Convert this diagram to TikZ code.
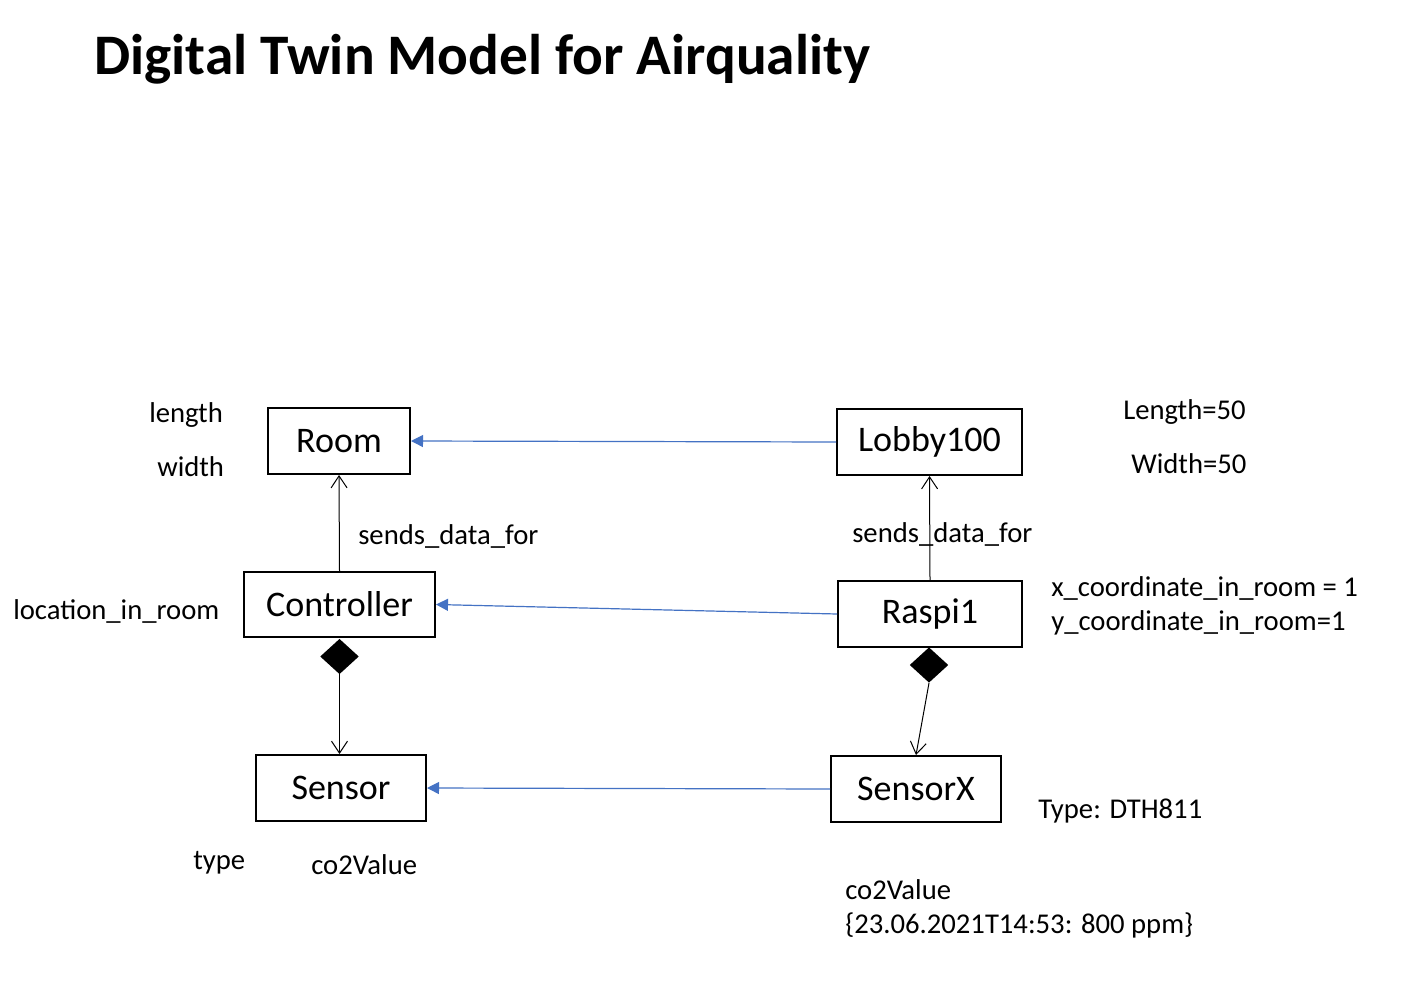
\documentclass[tikz,border=0pt]{standalone}
\usepackage{fontspec}
\setmainfont{Carlito}
\usetikzlibrary{arrows.meta,shapes.geometric}
\definecolor{bluec}{HTML}{4472C4}
\begin{document}
\begin{tikzpicture}[x=0.75pt,y=-0.75pt,
  cls/.style={draw,line width=1.5pt,inner sep=0pt,font=\fontsize{27}{32}\selectfont},
  lbl/.style={font=\fontsize{21.5}{26}\selectfont,inner sep=0pt,anchor=west,text height=0.75em,text depth=0.25em,yshift=-4.5pt},
  bluearrow/.style={draw=bluec,line width=0.9pt,-{Triangle[width=9pt,length=9pt]}},
  assoc/.style={draw,line width=0.75pt,-{Straight Barb[length=9pt,width=12pt,line width=0.75pt]}},
  comp/.style={diamond,fill=black,inner sep=0pt,minimum width=29pt,minimum height=26.5pt}]
\useasboundingbox (0,0) rectangle (1408,984);
\fill[white] (0,0) rectangle (1408,984);
% title
\node[font=\fontsize{43}{50}\selectfont\bfseries,inner sep=0pt,anchor=base west] (title) at (94,75) {Digital Twin Model for Airquality};
% class boxes
\node[cls,minimum width=106.5pt,minimum height=49.5pt] (room) at (339,441) {Room};
\node[cls,minimum width=138.75pt,minimum height=49.5pt] (lobby) at (929.5,442) {Lobby100};
\node[cls,minimum width=143.25pt,minimum height=48.75pt] (ctrl) at (339.5,604.5) {Controller};
\node[cls,minimum width=138pt,minimum height=49.5pt] (raspi) at (930,614) {Raspi1};
\node[cls,minimum width=127.5pt,minimum height=49.5pt] (sensor) at (341,788) {Sensor};
\node[cls,minimum width=127.5pt,minimum height=49.5pt] (sensorx) at (916,789) {SensorX};
% composition diamonds
\node[comp] (d1) at (339.5,656.5) {};
\node[comp] (d2) at (929,665) {};
% connectors
\draw[bluearrow] (lobby.west) -- (room.east);
\draw[bluearrow] (raspi.west) -- (ctrl.east);
\draw[bluearrow] (sensorx.west) -- (sensor.east);
\draw[assoc] (ctrl.north) -- (room.south);
\draw[assoc] (raspi.north) -- (lobby.south);
\draw[assoc] (d1.south) -- (d1.south |- sensor.north);
\draw[assoc] (d2.south) -- (sensorx.north);
% labels
\node[lbl] (l1) at (149,413) {length};
\node[lbl] (l2) at (157,467) {width};
\node[lbl] (l3) at (358,535) {sends\_data\_for};
\node[lbl] (l4) at (852,533) {sends\_data\_for};
\node[lbl] (l5) at (13,610) {location\_in\_room};
\node[lbl] (l6) at (1123,410) {Length=50};
\node[lbl] (l7) at (1131,464) {Width=50};
\node[lbl] (l8) at (1051,587) {x\_coordinate\_in\_room = 1};
\node[lbl] (l9) at (1051,621) {y\_coordinate\_in\_room=1};
\node[lbl] (l10) at (1038,809) {Type: DTH811};
\node[lbl] (l11) at (193,860) {type};
\node[lbl] (l12) at (311,865) {co2Value};
\node[lbl] (l13) at (845,890) {co2Value};
\node[lbl] (l14) at (845,924) {\{23.06.2021T14:53: 800 ppm\}};
\end{tikzpicture}
\end{document}
